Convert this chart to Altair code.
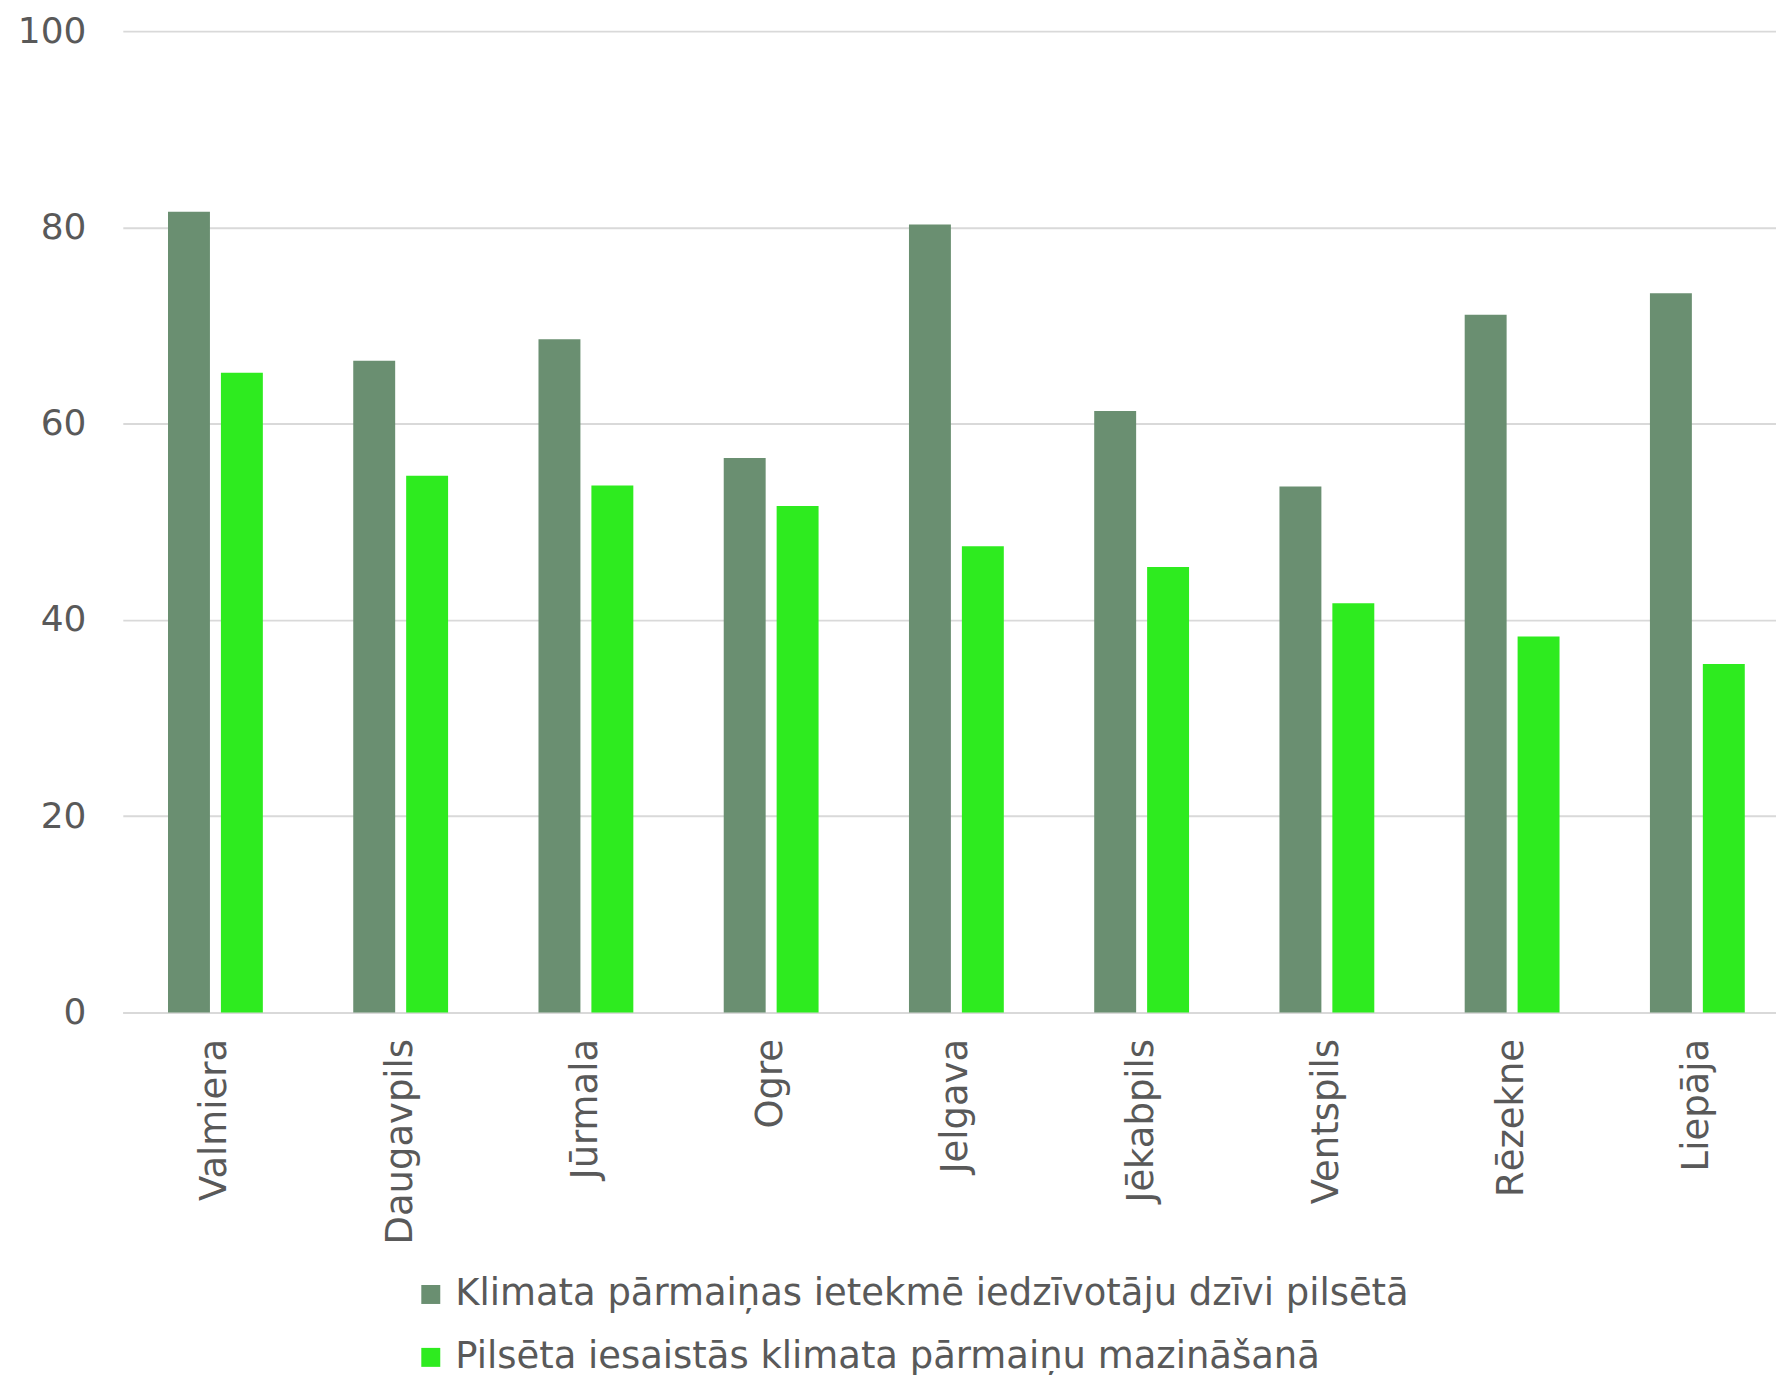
import altair as alt
import pandas as pd

cities = ["Valmiera", "Daugavpils", "Jūrmala", "Ogre", "Jelgava", "Jēkabpils", "Ventspils", "Rēzekne", "Liepāja"]
series_names = ["Klimata pārmaiņas ietekmē iedzīvotāju dzīvi pilsētā",
                "Pilsēta iesaistās klimata pārmaiņu mazināšanā"]
impact = [81.6, 66.4, 68.6, 56.5, 80.3, 61.3, 53.6, 71.1, 73.3]
mitigation = [65.2, 54.7, 53.7, 51.6, 47.5, 45.4, 41.7, 38.3, 35.5]
colors = ["#6A8F71", "#2EEB1F"]

rows = []
for c, a, b in zip(cities, impact, mitigation):
    rows.append({"city": c, "series": series_names[0], "value": a})
    rows.append({"city": c, "series": series_names[1], "value": b})
df = pd.DataFrame(rows)

FONT = "DejaVu Sans"
TXT = "#595959"

chart = alt.Chart(df).mark_bar().encode(
    x=alt.X("city:N", sort=cities, title=None,
            scale=alt.Scale(paddingInner=0.488, paddingOuter=0.244, range=[0, 1670]),
            axis=alt.Axis(labelAngle=-90, labelAlign="right", labelBaseline="middle",
                          labelPadding=26, ticks=False, domain=True,
                          domainColor="#d9d9d9", domainWidth=2,
                          labelFont=FONT, labelFontSize=37, labelColor=TXT,
                          labelLimit=400)),
    xOffset=alt.XOffset("series:N", sort=series_names,
                        scale=alt.Scale(paddingInner=0.2075, paddingOuter=0)),
    y=alt.Y("value:Q", title=None,
            scale=alt.Scale(domain=[0, 100], nice=False),
            axis=alt.Axis(values=[0, 20, 40, 60, 80, 100], domain=False, ticks=False,
                          labelPadding=37, labelFont=FONT, labelFontSize=36,
                          labelColor=TXT, gridColor="#d9d9d9", gridWidth=2)),
    color=alt.Color("series:N", sort=series_names,
                    scale=alt.Scale(domain=series_names, range=colors),
                    legend=alt.Legend(title=None, orient="none", legendX=290, legendY=1247,
                                      symbolType="square", symbolSize=361,
                                      symbolStrokeWidth=0, labelFont=FONT,
                                      labelFontSize=37, labelColor=TXT,
                                      labelLimit=1300, rowPadding=25, labelOffset=6,
                                      direction="vertical")),
).properties(
    width=1656, height=983,
    padding={"left": 115, "top": 22, "right": 0, "bottom": 367},
    autosize=alt.AutoSizeParams(type="none"),
).configure_view(stroke=None)

chart.save("out.html", embed_options={"renderer": "svg", "actions": False})
